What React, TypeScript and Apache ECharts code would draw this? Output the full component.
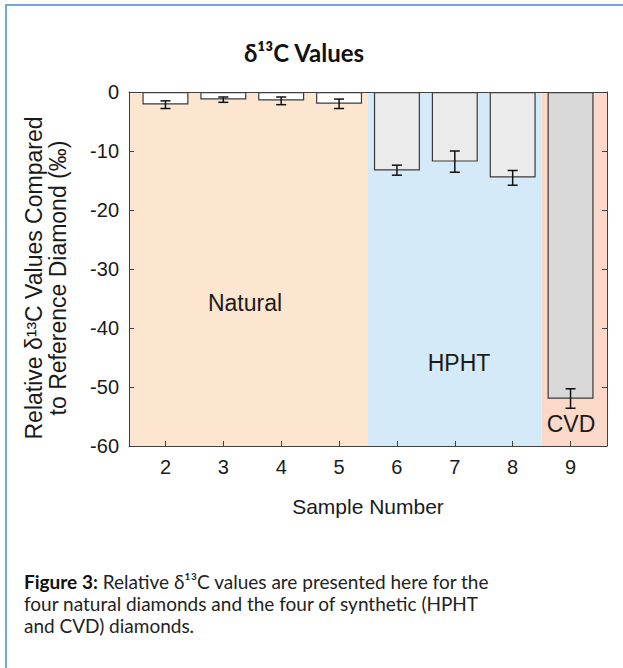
import React, { useEffect, useRef } from "react";
import * as echarts from "echarts";

const categories = [2, 3, 4, 5, 6, 7, 8, 9];
const values = [-2.1, -1.25, -1.45, -2.0, -13.3, -11.8, -14.5, -52.0];
const errLow = [-2.8, -1.75, -2.15, -2.8, -14.1, -13.6, -15.8, -53.6];
const errHigh = [-1.5, -0.85, -0.85, -1.2, -12.4, -10.0, -13.3, -50.3];
const groupOf = [0, 0, 0, 0, 1, 1, 1, 2];
const groupNames = ["Natural", "HPHT", "CVD"];
const groupBounds = [
  [1.37, 5.5],
  [5.5, 8.5],
  [8.5, 9.63],
];
const yTicks = [0, -10, -20, -30, -40, -50, -60];

const X_MIN = 1.37;
const X_MAX = 9.63;
const Y_MIN = -60;
const Y_MAX = 0;

const bgColors = ["#fde6d0", "#d4eaf9", "#fcd8c9"];
const barColors = ["#ffffff", "#ebebeb", "#d9d9d9"];
const AXIS_COLOR = "#404040";
const SANS = "'Liberation Sans', Arial, sans-serif";
const CAP = "Lato, 'Open Sans', sans-serif";

export default function App() {
  const ref = useRef<HTMLDivElement>(null);

  useEffect(() => {
    if (!ref.current) return;
    const chart = echarts.init(ref.current, undefined, { renderer: "svg" });

    const bgData = groupBounds.map((b, i) => [b[0], b[1], i]);
    const barData = categories.map((c, i) => ({
      value: [c, values[i]],
      itemStyle: { color: barColors[groupOf[i]] },
    }));
    const errData = categories.map((c, i) => [c, errLow[i], errHigh[i]]);

    const option: any = {
      animation: false,
      backgroundColor: "#ffffff",
      grid: { left: 129, top: 92, width: 478, height: 354, containLabel: false },
      xAxis: [
        {
          type: "value",
          position: "bottom",
          min: X_MIN,
          max: X_MAX,
          z: 10,
          axisLine: { show: true, onZero: false, lineStyle: { color: AXIS_COLOR, width: 1 } },
          axisTick: {
            show: true,
            inside: true,
            length: 5,
            customValues: categories,
            lineStyle: { color: AXIS_COLOR },
          },
          axisLabel: {
            customValues: categories,
            fontSize: 20,
            fontFamily: SANS,
            color: "#1a1a1a",
            margin: 11,
          },
          splitLine: { show: false },
          name: "Sample Number",
          nameLocation: "middle",
          nameGap: 50,
          nameTextStyle: { fontSize: 21, fontFamily: SANS, color: "#1a1a1a" },
        },
        {
          type: "value",
          position: "top",
          min: X_MIN,
          max: X_MAX,
          z: 10,
          axisLine: { show: true, onZero: false, lineStyle: { color: AXIS_COLOR, width: 1 } },
          axisTick: { show: false },
          axisLabel: { show: false },
          splitLine: { show: false },
        },
      ],
      yAxis: [
        {
          type: "value",
          position: "left",
          min: Y_MIN,
          max: Y_MAX,
          interval: 10,
          z: 10,
          axisLine: { show: true, onZero: false, lineStyle: { color: AXIS_COLOR, width: 1 } },
          axisTick: { show: true, inside: true, length: 5, lineStyle: { color: AXIS_COLOR } },
          axisLabel: {
            fontSize: 20,
            fontFamily: SANS,
            color: "#1a1a1a",
            margin: 10,
            customValues: yTicks,
          },
          splitLine: { show: false },
        },
        {
          type: "value",
          position: "right",
          min: Y_MIN,
          max: Y_MAX,
          interval: 10,
          z: 10,
          axisLine: { show: true, onZero: false, lineStyle: { color: AXIS_COLOR, width: 1 } },
          axisTick: { show: true, inside: true, length: 5, lineStyle: { color: AXIS_COLOR } },
          axisLabel: { show: false },
          splitLine: { show: false },
        },
      ],
      series: [
        {
          type: "custom",
          name: "regions",
          xAxisIndex: 0,
          yAxisIndex: 0,
          z: 1,
          silent: true,
          data: bgData,
          renderItem: (params: any, api: any) => {
            const p0 = api.coord([api.value(0), Y_MAX]);
            const p1 = api.coord([api.value(1), Y_MIN]);
            const idx = api.value(2);
            return {
              type: "rect",
              shape: { x: p0[0], y: p0[1], width: p1[0] - p0[0], height: p1[1] - p0[1] },
              style: { fill: bgColors[idx] },
            };
          },
        },
        {
          type: "bar",
          name: "values",
          xAxisIndex: 0,
          yAxisIndex: 0,
          z: 2,
          barWidth: 46,
          data: barData,
          itemStyle: { borderColor: "#3a3a3a", borderWidth: 1.2 },
        },
        {
          type: "custom",
          name: "error",
          xAxisIndex: 0,
          yAxisIndex: 0,
          z: 3,
          data: errData,
          renderItem: (params: any, api: any) => {
            const lo = api.coord([api.value(0), api.value(1)]);
            const hi = api.coord([api.value(0), api.value(2)]);
            const half = 5;
            const st = { stroke: "#111", lineWidth: 1.5 };
            return {
              type: "group",
              children: [
                { type: "line", shape: { x1: lo[0], y1: lo[1], x2: hi[0], y2: hi[1] }, style: st },
                { type: "line", shape: { x1: lo[0] - half, y1: lo[1], x2: lo[0] + half, y2: lo[1] }, style: st },
                { type: "line", shape: { x1: hi[0] - half, y1: hi[1], x2: hi[0] + half, y2: hi[1] }, style: st },
              ],
            };
          },
        },
      ],
      graphic: [
        {
          type: "rect",
          shape: { x: 6, y: 5, width: 700, height: 700 },
          style: { fill: "none", stroke: "#70a8d8", lineWidth: 2 },
          silent: true,
        },
        {
          type: "text",
          x: 304,
          y: 52,
          style: {
            text: "δ¹³C Values",
            font: "bold 24px " + CAP,
            fill: "#111",
            textAlign: "center",
            textVerticalAlign: "middle",
          },
        },
        {
          type: "text",
          x: 46,
          y: 278,
          rotation: Math.PI / 2,
          style: {
            text: "Relative δ¹³C Values Compared\nto Reference Diamond (‰)",
            font: "23px " + SANS,
            lineHeight: 24,
            fill: "#1a1a1a",
            textAlign: "center",
            textVerticalAlign: "middle",
          },
        },
        {
          type: "text",
          x: 245,
          y: 303,
          z: 20,
          style: { text: groupNames[0], font: "23px " + SANS, fill: "#1a1a1a", textAlign: "center", textVerticalAlign: "middle" },
        },
        {
          type: "text",
          x: 459,
          y: 363,
          z: 20,
          style: { text: groupNames[1], font: "23px " + SANS, fill: "#1a1a1a", textAlign: "center", textVerticalAlign: "middle" },
        },
        {
          type: "text",
          x: 571,
          y: 424,
          z: 20,
          style: { text: groupNames[2], font: "23px " + SANS, fill: "#1a1a1a", textAlign: "center", textVerticalAlign: "middle" },
        },
        {
          type: "text",
          x: 24,
          y: 570,
          style: {
            text:
              "{b|Figure 3:} Relative δ¹³C values are presented here for the\nfour natural diamonds and the four of synthetic (HPHT\nand CVD) diamonds.",
            font: "19px " + CAP,
            fill: "#222",
            lineHeight: 22,
            textAlign: "left",
            textVerticalAlign: "top",
            rich: {
              b: { fontWeight: "bold", fontSize: 19, fontFamily: CAP, fill: "#111" },
            },
          },
        },
      ],
    };

    chart.setOption(option);
    return () => chart.dispose();
  }, []);

  return (
    <div
      ref={ref}
      style={{ position: "absolute", left: 0, top: 0, width: 623, height: 668 }}
    />
  );
}
